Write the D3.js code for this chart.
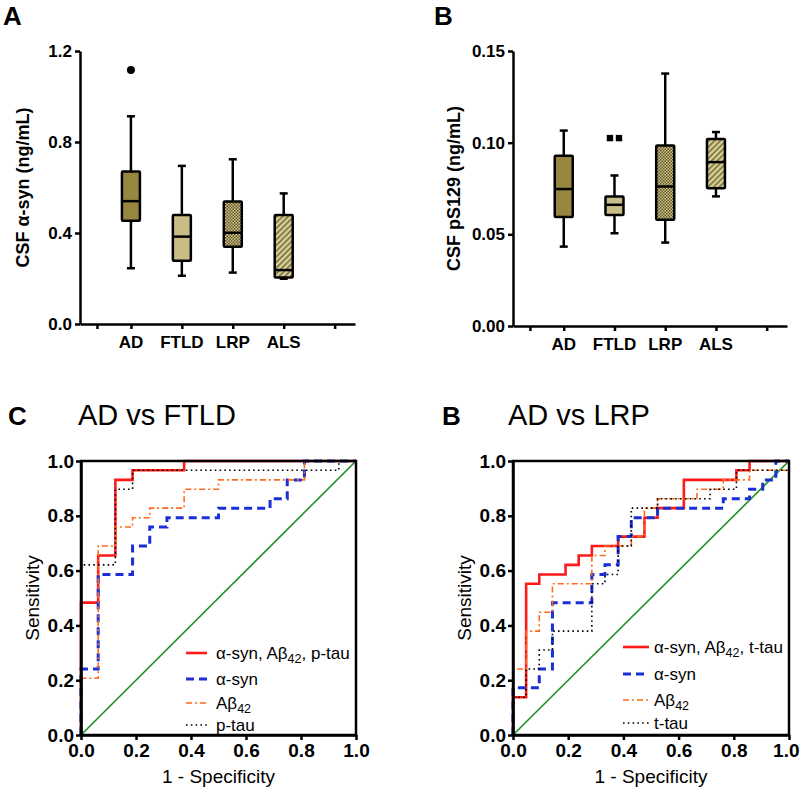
<!DOCTYPE html>
<html><head><meta charset="utf-8">
<script src="https://cdn.jsdelivr.net/npm/d3@7"></script>
<style>
body{margin:0;background:#fff;}
svg{display:block;font-family:Arial,"Liberation Sans",Helvetica,sans-serif;}
</style></head>
<body>
<svg id="chart" width="800" height="789"></svg>
<script>
// ---------------- DATA ----------------
const boxCats = ["AD","FTLD","LRP","ALS"];
const xTickSlots = [0.333, 1, 2, 3, 4, 5];
const xTickLabels = ["", "AD", "FTLD", "LRP", "ALS", ""];

// Panel A : CSF alpha-syn (ng/mL)
const synLow  = [0.245, 0.212, 0.226, 0.199];
const synQ1   = [0.454, 0.278, 0.340, 0.204];
const synMed  = [0.540, 0.384, 0.401, 0.237];
const synQ3   = [0.670, 0.479, 0.538, 0.479];
const synHigh = [0.913, 0.695, 0.724, 0.574];
const synOutCat = ["AD"];
const synOutVal = [1.117];
const synTicks = [0, 0.4, 0.8, 1.2];

// Panel B : CSF pS129 (ng/mL)
const psLow  = [0.0433, 0.0506, 0.0455, 0.0707];
const psQ1   = [0.0594, 0.0605, 0.0579, 0.0752];
const psMed  = [0.0747, 0.0661, 0.0761, 0.0894];
const psQ3   = [0.0929, 0.0707, 0.0984, 0.1020];
const psHigh = [0.1066, 0.0821, 0.1377, 0.1058];
const psOutCat = ["FTLD", "FTLD"];
const psOutVal = [0.1025, 0.1025];
const psTicks = [0, 0.05, 0.10, 0.15];

// ROC panel C : AD vs FTLD
const cComboFpr = [0, 0, 0.0625, 0.125, 0.1875, 0.375, 1];
const cComboTpr = [0, 0.483, 0.655, 0.931, 0.966, 1, 1];
const cSynFpr = [0, 0, 0.0625, 0.1875, 0.25, 0.3125, 0.5, 0.6875, 0.75, 0.8125, 1];
const cSynTpr = [0, 0.241, 0.586, 0.690, 0.759, 0.793, 0.828, 0.862, 0.931, 1, 1];
const cAbFpr = [0, 0, 0.0625, 0.125, 0.1875, 0.25, 0.375, 0.5, 0.8125, 1];
const cAbTpr = [0, 0.207, 0.690, 0.759, 0.793, 0.828, 0.897, 0.931, 1, 1];
const cTauFpr = [0, 0, 0.125, 0.1875, 0.9375, 1];
const cTauTpr = [0, 0.621, 0.897, 0.966, 1, 1];

// ROC panel D : AD vs LRP
const dComboFpr = [0, 0, 0.0476, 0.0952, 0.1905, 0.2381, 0.2857, 0.381, 0.4762, 0.5238, 0.619, 0.8095, 0.8571, 1];
const dComboTpr = [0, 0.138, 0.552, 0.586, 0.621, 0.655, 0.690, 0.724, 0.793, 0.828, 0.931, 0.966, 1, 1];
const dSynFpr = [0, 0, 0.0952, 0.1429, 0.2857, 0.3333, 0.381, 0.4286, 0.5238, 0.7619, 0.8571, 0.9048, 0.9524, 1];
const dSynTpr = [0, 0.172, 0.241, 0.483, 0.586, 0.621, 0.724, 0.793, 0.828, 0.862, 0.897, 0.931, 1, 1];
const dAbFpr = [0, 0, 0.0476, 0.0952, 0.1429, 0.2857, 0.3333, 0.4286, 0.4762, 0.5238, 0.6667, 0.7619, 0.8571, 1, 1];
const dAbTpr = [0, 0.241, 0.379, 0.448, 0.552, 0.655, 0.690, 0.724, 0.828, 0.862, 0.897, 0.931, 0.966, 0.966, 1];
const dTauFpr = [0, 0, 0.0476, 0.0952, 0.1429, 0.2857, 0.3333, 0.381, 0.4286, 0.5238, 0.7143, 0.8095, 1];
const dTauTpr = [0, 0.138, 0.241, 0.310, 0.379, 0.552, 0.586, 0.690, 0.828, 0.862, 0.897, 0.966, 1];
const rocTicks = [0, 0.2, 0.4, 0.6, 0.8, 1.0];

// ---------------- DRAW ----------------
const svg = d3.select("#chart");
const FONT = 'Arial,"Liberation Sans",Helvetica,sans-serif';
const defs = svg.append("defs");
// checker pattern for LRP
const pc = defs.append("pattern").attr("id","checker").attr("patternUnits","userSpaceOnUse").attr("width",3).attr("height",3);
pc.append("rect").attr("width",3).attr("height",3).attr("fill","#cfc38e");
pc.append("rect").attr("width",1.5).attr("height",1.5).attr("fill","#5f5424");
pc.append("rect").attr("x",1.5).attr("y",1.5).attr("width",1.5).attr("height",1.5).attr("fill","#5f5424");
// hatch pattern for ALS
const ph = defs.append("pattern").attr("id","hatch").attr("patternUnits","userSpaceOnUse").attr("width",4).attr("height",4).attr("patternTransform","rotate(45)");
ph.append("rect").attr("width",4).attr("height",4).attr("fill","#d9d0a0");
ph.append("rect").attr("width",1.6).attr("height",4).attr("fill","#7a6c33");
const boxFills = ["#978640", "#c9bd87", "url(#checker)", "url(#hatch)"];

function styleAxis(g, fs){
  g.select(".domain").attr("stroke","#000").attr("stroke-width",2.5);
  g.selectAll(".tick line").attr("stroke","#000").attr("stroke-width",2.5);
  g.selectAll(".tick text").attr("font-family",FONT).attr("font-weight","bold").attr("font-size",fs).attr("fill","#000");
}

function boxPanel(opt){
  const x = d3.scaleLinear().domain([0,5.4]).range(opt.xr);
  const y = d3.scaleLinear().domain(opt.yd).range(opt.yr);
  const g = svg.append("g");
  const bw = 18, cap = 4;
  const data = boxCats.map((c,i)=>({c, i, lo:opt.lo[i], q1:opt.q1[i], med:opt.med[i], q3:opt.q3[i], hi:opt.hi[i]}));
  const b = g.selectAll(".box").data(data).enter().append("g");
  const cx = d => x(d.i+1);
  b.append("line").attr("x1",cx).attr("x2",cx).attr("y1",d=>y(d.hi)).attr("y2",d=>y(d.q3)).attr("stroke","#000").attr("stroke-width",2.5);
  b.append("line").attr("x1",cx).attr("x2",cx).attr("y1",d=>y(d.q1)).attr("y2",d=>y(d.lo)).attr("stroke","#000").attr("stroke-width",2.5);
  b.append("line").attr("x1",d=>cx(d)-cap).attr("x2",d=>cx(d)+cap).attr("y1",d=>y(d.hi)).attr("y2",d=>y(d.hi)).attr("stroke","#000").attr("stroke-width",2.5);
  b.append("line").attr("x1",d=>cx(d)-cap).attr("x2",d=>cx(d)+cap).attr("y1",d=>y(d.lo)).attr("y2",d=>y(d.lo)).attr("stroke","#000").attr("stroke-width",2.5);
  b.append("rect").attr("x",d=>cx(d)-bw/2).attr("width",bw).attr("y",d=>y(d.q3)).attr("height",d=>y(d.q1)-y(d.q3))
    .attr("fill",d=>boxFills[d.i]).attr("stroke","#000").attr("stroke-width",2.5).attr("rx",1);
  b.append("line").attr("x1",d=>cx(d)-bw/2).attr("x2",d=>cx(d)+bw/2).attr("y1",d=>y(d.med)).attr("y2",d=>y(d.med)).attr("stroke","#000").attr("stroke-width",2.5);
  // outliers
  const outs = opt.outCat.map((c,k)=>({c, v:opt.outVal[k]}));
  outs.forEach((o,k)=>{
    const same = outs.filter(p=>p.c===o.c);
    const idx = outs.slice(0,k).filter(p=>p.c===o.c).length;
    const off = (idx - (same.length-1)/2) * 9;
    const px = x(boxCats.indexOf(o.c)+1) + off, py = y(o.v);
    if (opt.outShape === "circle") g.append("circle").attr("cx",px).attr("cy",py).attr("r",4).attr("fill","#000");
    else g.append("rect").attr("x",px-3.2).attr("y",py-3.2).attr("width",6.4).attr("height",6.4).attr("fill","#000");
  });
  // axes
  const ya = g.append("g").attr("transform",`translate(${opt.xr[0]},0)`)
    .call(d3.axisLeft(y).tickValues(opt.ticks).tickFormat(d3.format(opt.fmt)).tickSize(5).tickSizeOuter(0).tickPadding(3));
  styleAxis(ya, 17);
  const xa = g.append("g").attr("transform",`translate(0,${opt.yr[0]})`)
    .call(d3.axisBottom(x).tickValues(xTickSlots).tickFormat((d,i)=>"").tickSize(5).tickSizeOuter(0));
  styleAxis(xa, 17);
  g.selectAll(".xl").data(xTickSlots).enter().append("text")
    .attr("x",d=>x(d)).attr("y",opt.yr[0]+24).attr("text-anchor","middle")
    .attr("font-family",FONT).attr("font-weight","bold").attr("font-size",17).text((d,i)=>xTickLabels[i]);
  g.append("text").attr("transform",`translate(${opt.ylx},${(opt.yr[0]+opt.yr[1])/2}) rotate(-90)`)
    .attr("text-anchor","middle").attr("font-family",FONT).attr("font-weight","bold").attr("font-size",18).text(opt.ylabel);
  g.append("text").attr("x",opt.lx).attr("y",25).attr("font-family",FONT).attr("font-weight","bold").attr("font-size",26).text(opt.letter);
}

boxPanel({xr:[80,355], yd:[0,1.2], yr:[324,51], lo:synLow, q1:synQ1, med:synMed, q3:synQ3, hi:synHigh,
  outCat:synOutCat, outVal:synOutVal, outShape:"circle", ticks:synTicks, fmt:".1f",
  ylabel:"CSF \u03b1-syn (ng/mL)", ylx:29, letter:"A", lx:3});
boxPanel({xr:[513,787], yd:[0,0.15], yr:[326,51], lo:psLow, q1:psQ1, med:psMed, q3:psQ3, hi:psHigh,
  outCat:psOutCat, outVal:psOutVal, outShape:"square", ticks:psTicks, fmt:".2f",
  ylabel:"CSF pS129 (ng/mL)", ylx:460, letter:"B", lx:434});

const seriesStyle = [
  {color:"#ff1a1a", w:2.6, dash:null},
  {color:"#1a2fd6", w:3, dash:"8,5"},
  {color:"#ff6a1a", w:1.6, dash:"6,3,2,3"},
  {color:"#000", w:1.6, dash:"1.6,3.2"}
];

function rocPanel(opt){
  const x = d3.scaleLinear().domain([0,1]).range(opt.xr);
  const y = d3.scaleLinear().domain([0,1]).range(opt.yr);
  const g = svg.append("g");
  g.append("line").attr("x1",x(0)).attr("y1",y(0)).attr("x2",x(1)).attr("y2",y(1)).attr("stroke","#1f8f1f").attr("stroke-width",1.6);
  const line = d3.line().x(d=>x(d[0])).y(d=>y(d[1])).curve(d3.curveStepAfter);
  opt.series.forEach((s,k)=>{
    const pts = s.fpr.map((f,i)=>[f, s.tpr[i]]);
    const st = seriesStyle[k];
    g.append("path").attr("d",line(pts)).attr("fill","none").attr("stroke",st.color).attr("stroke-width",st.w)
      .attr("stroke-dasharray",st.dash).attr("stroke-linejoin","miter");
  });
  g.append("rect").attr("x",x(0)).attr("y",y(1)).attr("width",x(1)-x(0)).attr("height",y(0)-y(1))
    .attr("fill","none").attr("stroke","#000").attr("stroke-width",2.5);
  const ya = g.append("g").attr("transform",`translate(${x(0)},0)`)
    .call(d3.axisLeft(y).tickValues(rocTicks).tickFormat(d3.format(".1f")).tickSize(5).tickSizeOuter(0).tickPadding(2));
  styleAxis(ya, 19);
  const xa = g.append("g").attr("transform",`translate(0,${y(0)})`)
    .call(d3.axisBottom(x).tickValues(rocTicks).tickFormat(d3.format(".1f")).tickSize(5).tickSizeOuter(0).tickPadding(4));
  styleAxis(xa, 19);
  // keep the last x tick label inside the canvas
  xa.selectAll(".tick text").filter(d=>d===1 && x(1)+16>800).attr("text-anchor","end").attr("dx", 799 - x(1));
  g.append("text").attr("transform",`translate(${x(0)-42},${(y(0)+y(1))/2}) rotate(-90)`)
    .attr("text-anchor","middle").attr("font-family",FONT).attr("font-size",19).text("Sensitivity");
  g.append("text").attr("x",(x(0)+x(1))/2).attr("y",y(0)+48).attr("text-anchor","middle")
    .attr("font-family",FONT).attr("font-size",19).text("1 - Specificity");
  g.append("text").attr("x",opt.lx).attr("y",425).attr("font-family",FONT).attr("font-weight","bold").attr("font-size",26).text(opt.letter);
  g.append("text").attr("x",opt.tx).attr("y",425).attr("font-family",FONT).attr("font-size",29).text(opt.title);
  // legend
  opt.legend.forEach((lab,k)=>{
    const st = seriesStyle[k];
    const ly = opt.legY[k];
    g.append("line").attr("x1",opt.legX).attr("x2",opt.legX+opt.legLen).attr("y1",ly).attr("y2",ly)
      .attr("stroke",st.color).attr("stroke-width",st.w).attr("stroke-dasharray",st.dash);
    const t = g.append("text").attr("x",opt.legX+opt.legLen+opt.legGap).attr("y",ly+6).attr("font-family",FONT).attr("font-size",17);
    lab.forEach(part=>{
      if (part.sub) t.append("tspan").attr("font-size",12.5).attr("dy",4).text(part.s);
      else if (part.up) t.append("tspan").attr("dy",-4).text(part.s);
      else t.append("tspan").text(part.s);
    });
  });
}

const legC = [
  [{s:"\u03b1-syn, A\u03b2"},{s:"42",sub:true},{s:", p-tau",up:true}],
  [{s:"\u03b1-syn"}],
  [{s:"A\u03b2"},{s:"42",sub:true}],
  [{s:"p-tau"}]
];
const legD = [
  [{s:"\u03b1-syn, A\u03b2"},{s:"42",sub:true},{s:", t-tau",up:true}],
  [{s:"\u03b1-syn"}],
  [{s:"A\u03b2"},{s:"42",sub:true}],
  [{s:"t-tau"}]
];

rocPanel({xr:[81,356], yr:[735,461], letter:"C", lx:8, title:"AD vs FTLD", tx:78,
  series:[{fpr:cComboFpr,tpr:cComboTpr},{fpr:cSynFpr,tpr:cSynTpr},{fpr:cAbFpr,tpr:cAbTpr},{fpr:cTauFpr,tpr:cTauTpr}],
  legend:legC, legX:186, legLen:21, legGap:9, legY:[653,679,703,725]});
rocPanel({xr:[513,789], yr:[735,461], letter:"B", lx:442, title:"AD vs LRP", tx:508,
  series:[{fpr:dComboFpr,tpr:dComboTpr},{fpr:dSynFpr,tpr:dSynTpr},{fpr:dAbFpr,tpr:dAbTpr},{fpr:dTauFpr,tpr:dTauTpr}],
  legend:legD, legX:623, legLen:26, legGap:5, legY:[647,674,700,723]});
</script>
</body></html>
